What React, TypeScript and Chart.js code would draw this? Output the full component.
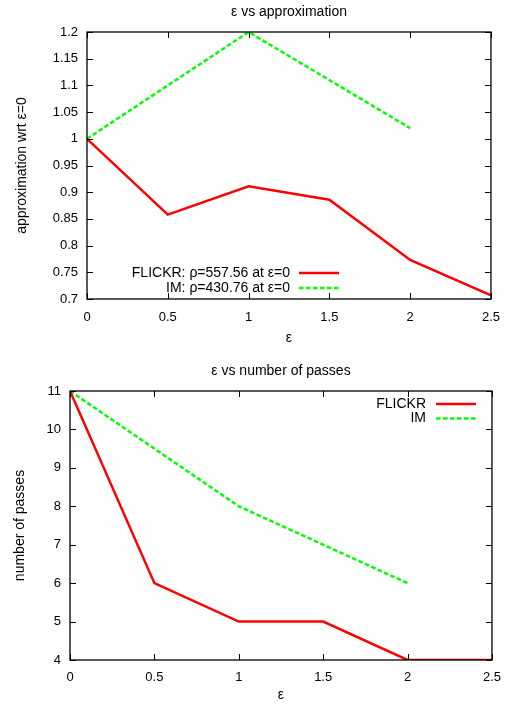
import React, { useEffect, useRef } from "react";
import { Chart, registerables } from "chart.js";

Chart.register(...registerables);

// ---- data ----
const epsValues = [0, 0.5, 1, 1.5, 2, 2.5];
const flickrApprox = [1.0, 0.858, 0.911, 0.886, 0.773, 0.707];
const imEpsValues = [0, 1, 2];
const imApprox = [1.0, 1.2, 1.02];

const flickrPasses = [11, 6, 5, 5, 4, 4];
const imPasses = [11, 8, 6];

const topTitle = "ε vs approximation";
const topYTitle = "approximation wrt ε=0";
const bottomTitle = "ε vs number of passes";
const bottomYTitle = "number of passes";
const xTitle = "ε";
const topLegend = ["FLICKR: ρ=557.56 at ε=0", "IM: ρ=430.76 at ε=0"];
const bottomLegend = ["FLICKR", "IM"];

const FONT = "'Liberation Sans', Arial, sans-serif";
const RED = "#ff0000";
const GREEN = "#00ff00";

const framePlugin = {
  id: "gnuFrame",
  afterDraw(chart: any, _args: any, opts: any) {
    const { ctx, chartArea } = chart;
    const { left, right, top, bottom } = chartArea;
    const xs = chart.scales.x;
    const ys = chart.scales.y;
    ctx.save();
    ctx.strokeStyle = "#000";
    ctx.lineWidth = 1;
    // ticks inward on all sides
    const tl = 6;
    ctx.beginPath();
    xs.ticks.forEach((t: any) => {
      const x = Math.round(xs.getPixelForValue(t.value)) + 0.5;
      ctx.moveTo(x, bottom);
      ctx.lineTo(x, bottom - tl);
      ctx.moveTo(x, top);
      ctx.lineTo(x, top + tl);
    });
    ys.ticks.forEach((t: any) => {
      const y = Math.round(ys.getPixelForValue(t.value)) + 0.5;
      ctx.moveTo(left, y);
      ctx.lineTo(left + tl, y);
      ctx.moveTo(right, y);
      ctx.lineTo(right - tl, y);
    });
    ctx.stroke();
    ctx.lineWidth = 1.3;
    ctx.strokeRect(left, top, right - left, bottom - top);

    // title
    ctx.fillStyle = "#000";
    ctx.font = `14px ${FONT}`;
    ctx.textAlign = "center";
    ctx.textBaseline = "middle";
    ctx.fillText(opts.title, (left + right) / 2, opts.titleY);

    // legend
    const lg = opts.legend;
    chart.data.datasets.forEach((ds: any, i: number) => {
      const y = lg.y + i * lg.dy;
      ctx.fillStyle = "#000";
      ctx.textAlign = "right";
      ctx.fillText(ds.label, lg.textRight, y);
      ctx.strokeStyle = ds.borderColor;
      ctx.lineWidth = ds.borderWidth;
      ctx.setLineDash(ds.borderDash || []);
      ctx.beginPath();
      ctx.moveTo(lg.lineX0, y);
      ctx.lineTo(lg.lineX1, y);
      ctx.stroke();
      ctx.setLineDash([]);
    });
    ctx.restore();
  },
};

function makeConfig(p: any) {
  return {
    type: "line",
    data: {
      datasets: [
        {
          label: p.labels[0],
          data: p.xs1.map((x: number, i: number) => ({ x, y: p.ys1[i] })),
          borderColor: RED,
          borderWidth: 2.5,
          pointRadius: 0,
          tension: 0,
          fill: false,
        },
        {
          label: p.labels[1],
          data: p.xs2.map((x: number, i: number) => ({ x, y: p.ys2[i] })),
          borderColor: GREEN,
          borderWidth: 2.5,
          borderDash: [4.5, 2.5],
          pointRadius: 0,
          tension: 0,
          fill: false,
        },
      ],
    },
    options: {
      animation: false,
      responsive: false,
      maintainAspectRatio: false,
      layout: { padding: { top: p.padTop, right: 18, left: 0, bottom: 0 } },
      plugins: {
        legend: { display: false },
        tooltip: { enabled: false },
        title: { display: false },
        gnuFrame: {
          title: p.title,
          titleY: p.titleY,
          legend: p.legend,
        },
      },
      scales: {
        x: {
          type: "linear",
          min: 0,
          max: 2.5,
          grid: { display: false, drawTicks: false },
          border: { display: false },
          ticks: {
            stepSize: 0.5,
            padding: p.xTickPad,
            color: "#000",
            font: { family: FONT, size: 13 },
            maxRotation: 0,
            autoSkip: false,
            callback: (v: number) => String(Number(v.toFixed(2))),
          },
          title: {
            display: true,
            text: xTitle,
            color: "#000",
            font: { family: FONT, size: 14 },
            padding: { top: 0, bottom: p.xTitlePad },
          },
          afterFit: (s: any) => {
            s.height = p.xHeight;
          },
        },
        y: {
          type: "linear",
          min: p.yMin,
          max: p.yMax,
          grid: { display: false, drawTicks: false },
          border: { display: false },
          ticks: {
            stepSize: p.yStep,
            padding: p.yTickPad,
            color: "#000",
            font: { family: FONT, size: 13 },
            autoSkip: false,
            callback: (v: number) => String(Number(v.toFixed(2))),
          },
          title: {
            display: true,
            text: p.yTitle,
            color: "#000",
            font: { family: FONT, size: 14 },
            padding: { top: p.yTitlePad, bottom: 0 },
          },
          afterFit: (s: any) => {
            s.width = p.yWidth;
          },
        },
      },
    },
    plugins: [framePlugin],
  };
}

function ChartBox(props: { cfg: any; top: number }) {
  const ref = useRef<HTMLCanvasElement>(null);
  useEffect(() => {
    const chart = new Chart(ref.current as HTMLCanvasElement, props.cfg);
    return () => chart.destroy();
  }, []);
  return (
    <canvas
      ref={ref}
      width={511}
      height={352}
      style={{ position: "absolute", left: 0, top: props.top, width: 511, height: 352 }}
    />
  );
}

export default function App() {
  const topCfg = makeConfig({
    labels: topLegend,
    xs1: epsValues,
    ys1: flickrApprox,
    xs2: imEpsValues,
    ys2: imApprox,
    padTop: 32,
    title: topTitle,
    titleY: 12,
    legend: { textRight: 290, lineX0: 299, lineX1: 339, y: 273, dy: 15 },
    xTickPad: 11,
    xTitlePad: 5,
    xHeight: 53,
    yMin: 0.7,
    yMax: 1.2,
    yStep: 0.05,
    yTickPad: 9,
    yTitle: topYTitle,
    yTitlePad: 14,
    yWidth: 87,
  });
  const bottomCfg = makeConfig({
    labels: bottomLegend,
    xs1: epsValues,
    ys1: flickrPasses,
    xs2: imEpsValues,
    ys2: imPasses,
    padTop: 39,
    title: bottomTitle,
    titleY: 19,
    legend: { textRight: 426, lineX0: 436, lineX1: 476, y: 52, dy: 14.5 },
    xTickPad: 10,
    xTitlePad: 0,
    xHeight: 44,
    yMin: 4,
    yMax: 11,
    yStep: 1,
    yTickPad: 9,
    yTitle: bottomYTitle,
    yTitlePad: 12,
    yWidth: 70,
  });
  return (
    <div style={{ position: "absolute", left: 0, top: 0, width: 511, height: 704, background: "#fff" }}>
      <ChartBox cfg={topCfg} top={0} />
      <ChartBox cfg={bottomCfg} top={352} />
    </div>
  );
}
